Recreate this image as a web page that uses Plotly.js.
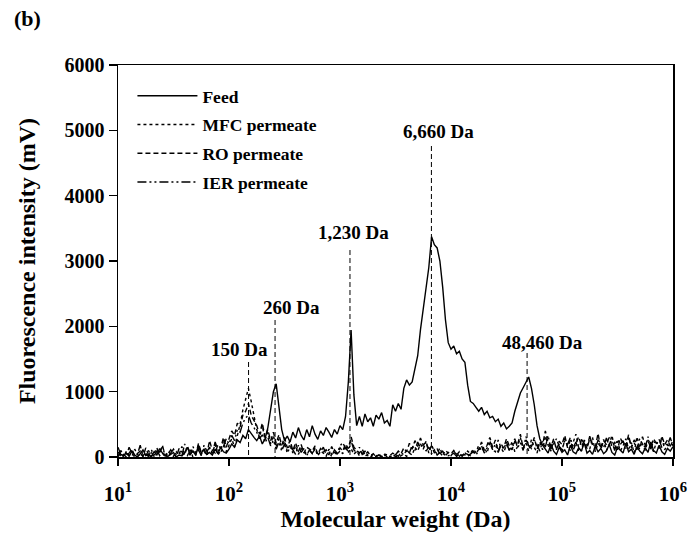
<!DOCTYPE html>
<html>
<head>
<meta charset="utf-8">
<script src="https://cdn.plot.ly/plotly-3.0.1.min.js"></script>
<style>html,body{margin:0;padding:0;background:#fff;}#chart{width:690px;height:538px;}</style>
</head>
<body>
<div id="chart"></div>
<script>
// Molecular weight grid (Da)
const mw = [
10,10.59,11.22,11.89,12.59,13.34,14.13,14.96,15.85,16.79,17.78,18.84,19.95,21.13,22.39,23.71,25.12,26.61,28.18,29.85,31.62,33.50,35.48,37.58,39.81,42.17,44.67,47.32,50.12,53.09,56.23,59.57,63.10,66.83,70.79,74.99,79.43,84.14,89.13,94.41,
100,105.9,112.2,118.9,125.9,133.4,141.3,149.6,158.5,167.9,177.8,188.4,199.5,211.3,223.9,237.1,251.2,266.1,281.8,298.5,316.2,335.0,354.8,375.8,398.1,421.7,446.7,473.2,501.2,530.9,562.3,595.7,631.0,668.3,707.9,749.9,794.3,841.4,891.3,944.1,
1000,1059,1122,1189,1259,1334,1413,1496,1585,1679,1778,1884,1995,2113,2239,2371,2512,2661,2818,2985,3162,3350,3548,3758,3981,4217,4467,4732,5012,5309,5623,5957,6310,6683,7079,7499,7943,8414,8913,9441,
10000,10590,11220,11890,12590,13340,14130,14960,15850,16790,17780,18840,19950,21130,22390,23710,25120,26610,28180,29850,31620,33500,35480,37580,39810,42170,44670,47320,50120,53090,56230,59570,63100,66830,70790,74990,79430,84140,89130,94410,
100000,105900,112200,118900,125900,133400,141300,149600,158500,167900,177800,188400,199500,211300,223900,237100,251200,266100,281800,298500,316200,335000,354800,375800,398100,421700,446700,473200,501200,530900,562300,595700,631000,668300,707900,749900,794300,841400,891300,944100,
1000000];

// Fluorescence intensity (mV)
const feed = [
150,40,20,60,10,90,30,0,50,110, 20,40,0,80,30,130,60,20,10,40, 70,0,30,20,60,150,40,90,30,180, 60,110,40,70,30,120,50,150,80,60,
120,200,150,260,220,330,280,420,350,300, 250,320,200,280,450,750,1000,1120,800,420, 250,320,230,380,290,450,330,260,420,310, 480,350,270,400,330,450,380,300,420,350,
480,420,620,1150,1945,950,480,620,470,660, 540,600,470,640,580,680,520,560,470,800, 700,820,730,1050,1180,1100,1150,1350,1550,1950, 2250,2600,2900,3370,3250,3200,3000,2600,2100,1750,
1650,1700,1580,1620,1500,1450,1100,850,820,760, 700,760,650,700,600,620,540,580,470,520, 430,470,520,700,850,980,1060,1150,1225,1050, 800,480,280,180,120,60,200,90,40,150,
70,110,30,180,80,50,140,90,220,60, 100,40,170,80,130,50,90,190,70,30, 150,100,60,210,80,120,40,160,90,50, 140,70,230,100,60,180,80,40,130,90,
160];

const mfc = [
20,60,0,90,30,10,120,40,0,70, 30,100,10,50,140,20,60,0,90,40, 10,80,30,160,50,20,110,0,70,130, 40,90,20,150,60,200,30,100,240,80,
180,280,150,320,500,720,900,1050,850,620, 420,300,480,260,380,200,330,150,280,120, 250,90,200,60,170,40,130,80,30,110, 50,140,20,90,60,10,120,40,80,30,
100,50,180,70,130,40,90,20,60,10, 40,0,30,10,50,0,20,40,0,30, 10,0,20,40,10,60,30,150,90,200, 120,240,60,180,90,50,140,30,100,60,
20,80,40,10,60,30,90,50,120,70, 180,90,150,60,220,110,80,260,140,70, 190,100,240,80,160,300,120,210,90,270, 150,60,230,110,320,180,90,250,130,200,
70,280,160,100,220,350,140,90,260,180, 120,300,80,210,150,270,100,190,330,130, 240,90,170,280,120,220,60,310,150,200, 100,260,180,80,230,140,300,110,190,160,
250];

const ro = [
80,10,40,0,60,120,20,50,90,0, 140,30,70,10,90,50,180,20,40,110, 60,0,130,80,30,170,50,90,20,210, 70,120,40,250,100,60,190,130,300,150,
260,400,330,520,460,640,700,820,640,560, 480,350,520,300,420,250,380,210,340,180, 300,140,260,100,220,80,190,60,150,120, 90,170,40,130,80,110,30,160,70,50,
140,90,200,130,310,150,100,60,120,30, 80,20,50,0,30,10,40,0,20,60, 30,90,50,140,80,210,120,250,160,290, 180,230,110,170,60,120,40,90,20,70,
50,100,30,80,10,60,40,20,90,50, 120,230,100,180,300,150,260,90,200,140, 280,170,110,240,190,350,130,260,200,160, 300,120,230,180,400,210,150,280,110,240,
190,330,140,260,100,220,310,170,240,130, 280,200,150,360,120,250,190,300,160,230, 110,290,210,170,340,140,260,200,120,310, 180,240,150,280,210,130,320,190,260,170,
220];

const ier = [
0,100,30,10,150,60,0,40,180,20, 70,0,110,40,20,90,150,30,0,60, 120,40,70,10,200,90,30,160,60,110, 20,180,90,140,50,230,110,70,160,280,
200,330,250,420,380,520,600,640,520,450, 380,280,340,220,300,170,260,120,230,90, 200,60,150,110,40,180,70,130,20,100, 60,120,30,80,150,40,70,10,110,60,
170,220,130,90,250,110,60,150,40,90, 20,40,0,10,30,0,50,20,10,0, 40,10,70,30,110,60,180,100,230,140, 200,90,150,50,110,30,70,10,50,20,
30,60,10,40,20,70,10,50,80,30, 90,170,60,140,250,110,200,70,180,120, 230,90,160,280,140,220,100,310,170,130, 260,190,90,240,150,330,120,200,280,160,
110,250,190,300,140,230,80,270,200,150, 320,180,120,260,210,140,290,170,230,100, 270,190,250,130,300,160,220,110,280,200, 150,310,120,240,190,270,140,220,180,300,
160];

const seriesNames = ['Feed', 'MFC permeate', 'RO permeate', 'IER permeate'];

// Peak markers
const peakMW = [150, 260, 1230, 6660, 48460];
const peakLabels = ['150 Da', '260 Da', '1,230 Da', '6,660 Da', '48,460 Da'];
const peakLineTop = [1454, 2097, 3168, 4760, 1592];
const peakLabelY = [1638, 2281, 3429, 4975, 1745];

const xTickVals = [10, 100, 1000, 10000, 100000, 1000000];
const xTickText = ['10<sup>1</sup>', '10<sup>2</sup>', '10<sup>3</sup>', '10<sup>4</sup>', '10<sup>5</sup>', '10<sup>6</sup>'];

const FONT = 'Liberation Serif, Times New Roman, serif';
const labelShift = [-9, 16, 4, 7, 15];

const traces = [];
const seriesData = [feed, mfc, ro, ier];
const dashes = ['solid', 'dot', '5px,3px', '9px,3px,2px,3px,2px,3px'];
const widths = [1.4, 1.4, 1.4, 1.4];
seriesData.forEach((ys, k) => {
  traces.push({
    x: mw, y: ys, type: 'scatter', mode: 'lines', name: seriesNames[k],
    legendgroup: 'g' + k,
    line: {color: '#000', width: widths[k], dash: dashes[k]}
  });
});
peakMW.forEach((m, k) => {
  traces.push({
    x: [m, m], y: [peakLineTop[k], 0], type: 'scatter', mode: 'lines',
    showlegend: false, hoverinfo: 'skip',
    line: {color: '#000', width: 1, dash: '5px,3px'}
  });
});

const annotations = peakMW.map((m, k) => ({
  x: Math.log10(m), y: peakLabelY[k], xref: 'x', yref: 'y',
  text: peakLabels[k], showarrow: false, xshift: labelShift[k],
  font: {family: FONT, size: 19, color: '#000', weight: 'bold'}
}));

const layout = {
  width: 690, height: 538,
  margin: {l: 118, r: 17, t: 65, b: 81},
  paper_bgcolor: '#fff', plot_bgcolor: '#fff',
  font: {family: FONT, color: '#000', size: 18, weight: 'bold'},
  title: {text: '(b)', x: 14 / 690, xanchor: 'left', xref: 'container', y: 1 - 18 / 538, yanchor: 'middle', yref: 'container',
          font: {family: FONT, size: 22, color: '#000', weight: 'bold'}},
  showlegend: true,
  legend: {x: 0.026, y: 0.967, xanchor: 'left', yanchor: 'top', bgcolor: 'rgba(0,0,0,0)',
           font: {family: FONT, size: 17.5, color: '#000', weight: 'bold'},
           tracegroupgap: 3, itemwidth: 60, traceorder: 'grouped'},
  xaxis: {
    type: 'log', range: [1, 6], tickvals: xTickVals, ticktext: xTickText,
    ticks: 'outside', ticklen: 7, tickwidth: 1.2, tickcolor: '#000',
    showline: true, linecolor: '#000', linewidth: 1.5, mirror: true,
    showgrid: false, zeroline: false, ticklabelstandoff: 10,
    tickfont: {family: FONT, size: 21, color: '#000', weight: 'bold'},
    title: {text: 'Molecular weight (Da)', standoff: 3,
            font: {family: FONT, size: 24, color: '#000', weight: 'bold'}}
  },
  yaxis: {
    range: [0, 6000], dtick: 1000, tick0: 0,
    ticks: 'outside', ticklen: 8, tickwidth: 1.2, tickcolor: '#000',
    showline: true, linecolor: '#000', linewidth: 1.5, mirror: true,
    showgrid: false, zeroline: false,
    tickfont: {family: FONT, size: 20, color: '#000', weight: 'bold'},
    title: {text: 'Fluorescence intensity (mV)', standoff: 22,
            font: {family: FONT, size: 24, color: '#000', weight: 'bold'}}
  },
  annotations: annotations
};

Plotly.newPlot('chart', traces, layout, {displayModeBar: false, staticPlot: true});
</script>
</body>
</html>
